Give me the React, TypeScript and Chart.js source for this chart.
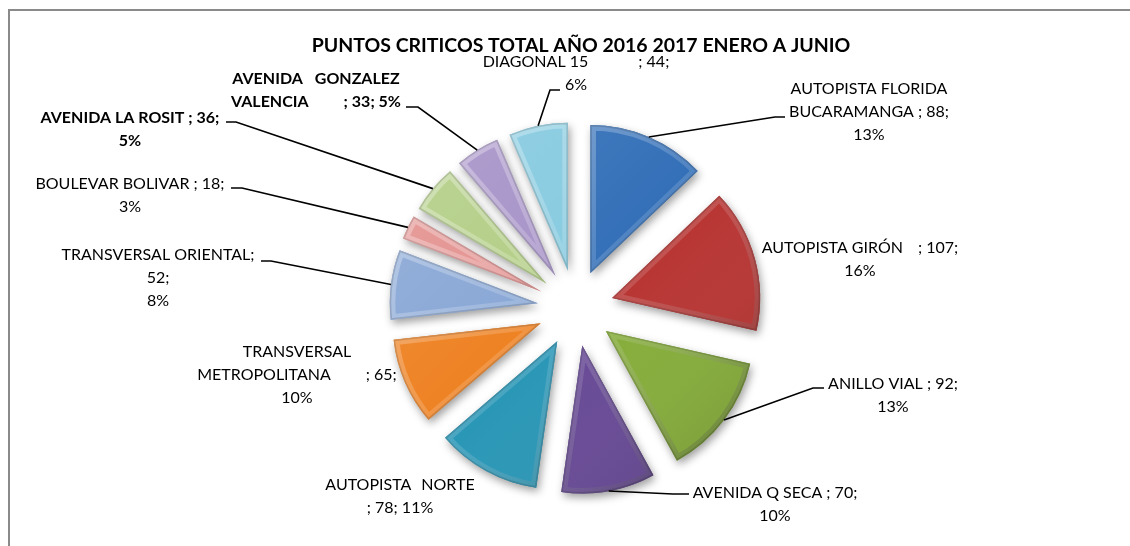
import React, { useEffect, useRef } from 'react';
import { Chart, registerables } from 'chart.js';

Chart.register(...registerables);

const TITLE = 'PUNTOS CRITICOS TOTAL AÑO 2016 2017 ENERO A JUNIO';

const categories = [
  'AUTOPISTA FLORIDA BUCARAMANGA',
  'AUTOPISTA GIRÓN',
  'ANILLO VIAL',
  'AVENIDA Q SECA',
  'AUTOPISTA  NORTE',
  'TRANSVERSAL METROPOLITANA',
  'TRANSVERSAL ORIENTAL',
  'BOULEVAR BOLIVAR',
  'AVENIDA LA ROSIT',
  'AVENIDA  GONZALEZ VALENCIA',
  'DIAGONAL 15',
];

const values = [88, 107, 92, 70, 78, 65, 52, 18, 36, 33, 44];

const sliceColors = [
  '#3470b8', '#b83634', '#86ad3b', '#684a96', '#2b97b7', '#ee8223',
  '#8aa8d6', '#e49492', '#b4cf88', '#a894c9', '#88cbe0',
];

// label text templates ({v} = value, {p} = percent, \t = wide gap)
const labelTemplates: string[][] = [
  ['AUTOPISTA FLORIDA', 'BUCARAMANGA ; {v};', '{p}%'],
  ['AUTOPISTA GIRÓN\t; {v};', '{p}%'],
  ['ANILLO VIAL ; {v};', '{p}%'],
  ['AVENIDA Q SECA ; {v};', '{p}%'],
  ['AUTOPISTA\tNORTE', '; {v}; {p}%'],
  ['TRANSVERSAL', 'METROPOLITANA\t; {v};', '{p}%'],
  ['TRANSVERSAL ORIENTAL;', '{v};', '{p}%'],
  ['BOULEVAR BOLIVAR ; {v};', '{p}%'],
  ['AVENIDA LA ROSIT ; {v};', '{p}%'],
  ['AVENIDA\tGONZALEZ', 'VALENCIA\t; {v}; {p}%'],
  ['DIAGONAL 15\t; {v};', '{p}%'],
];

const labelBold = [false, false, false, false, false, false, false, false, true, true, false];

// layout of labels (centre x, first line middle y, gap widths per line, leader elbow & end)
type LeaderPts = [number, number][] | null;
const labelLayout: { x: number; y: number; gaps: number[]; leader: LeaderPts }[] = [
  { x: 869, y: 89, gaps: [], leader: [[775, 117], [785, 117]] },
  { x: 860, y: 248, gaps: [15], leader: null },
  { x: 893, y: 384, gaps: [], leader: [[813, 388], [824, 388]] },
  { x: 775, y: 493, gaps: [], leader: [[673, 494], [689, 494]] },
  { x: 400, y: 485, gaps: [10], leader: null },
  { x: 297, y: 352, gaps: [0, 35], leader: null },
  { x: 158, y: 255, gaps: [], leader: [[271, 261], [261, 261]] },
  { x: 130, y: 184, gaps: [], leader: [[242, 188], [231, 188]] },
  { x: 130, y: 118, gaps: [], leader: [[236, 122], [226, 122]] },
  { x: 316, y: 79, gaps: [12, 35], leader: [[418, 107], [406, 107]] },
  { x: 576, y: 62, gaps: [50], leader: [[550, 90], [560, 90]] },
];

const EXPLODE = 38;
const LABEL_FONT = 'Lato, "Open Sans", sans-serif';
const LABEL_SIZE = 16;
const TITLE_SIZE = 19.5;
const LINE_H = 22.7;

function slicePath(ctx: CanvasRenderingContext2D, x: number, y: number, r: number, a0: number, a1: number) {
  ctx.beginPath();
  ctx.moveTo(x, y);
  ctx.arc(x, y, r, a0, a1);
  ctx.closePath();
}

const piePlugin = {
  id: 'explodedBevelPie',
  beforeDraw(chart: any) {
    const ctx: CanvasRenderingContext2D = chart.ctx;
    ctx.save();
    ctx.fillStyle = '#ffffff';
    ctx.fillRect(0, 0, chart.width, chart.height);
    ctx.fillStyle = '#8a8a8a';
    ctx.fillRect(8, 9, chart.width - 8, 2);
    ctx.fillRect(8, 9, 2, chart.height - 9);
    ctx.restore();
  },
  beforeDatasetDraw(chart: any, args: any) {
    const ctx: CanvasRenderingContext2D = chart.ctx;
    const meta = chart.getDatasetMeta(args.index);
    meta.data.forEach((el: any, i: number) => {
      const { x, y, startAngle, endAngle, outerRadius } = el.getProps(
        ['x', 'y', 'startAngle', 'endAngle', 'outerRadius'], true);
      const r = outerRadius;
      const mid = (startAngle + endAngle) / 2;
      const dx = Math.cos(mid) * EXPLODE;
      const dy = Math.sin(mid) * EXPLODE;
      ctx.save();
      ctx.translate(dx, dy);
      // soft drop shadow
      ctx.save();
      ctx.shadowColor = 'rgba(0,0,0,0.38)';
      ctx.shadowBlur = 8;
      ctx.shadowOffsetX = 2;
      ctx.shadowOffsetY = 4;
      slicePath(ctx, x, y, r, startAngle, endAngle);
      ctx.fillStyle = sliceColors[i];
      ctx.fill();
      ctx.restore();
      // library arc
      el.draw(ctx);
      // bevel shading
      ctx.save();
      slicePath(ctx, x, y, r, startAngle, endAngle);
      ctx.clip();
      const face = ctx.createLinearGradient(x - r, y - r, x + r, y + r);
      face.addColorStop(0, 'rgba(255,255,255,0.10)');
      face.addColorStop(0.5, 'rgba(255,255,255,0)');
      face.addColorStop(1, 'rgba(0,0,0,0.12)');
      ctx.fillStyle = face;
      ctx.fillRect(x - r - 5, y - r - 5, 2 * r + 10, 2 * r + 10);
      const edge = ctx.createLinearGradient(x - r, y - r, x + r, y + r);
      edge.addColorStop(0, 'rgba(255,255,255,0.38)');
      edge.addColorStop(0.5, 'rgba(255,255,255,0.14)');
      edge.addColorStop(1, 'rgba(0,0,0,0.30)');
      slicePath(ctx, x, y, r, startAngle, endAngle);
      ctx.lineJoin = 'round';
      ctx.lineWidth = 11;
      ctx.strokeStyle = edge;
      ctx.stroke();
      ctx.lineWidth = 3;
      ctx.strokeStyle = 'rgba(0,0,0,0.14)';
      ctx.stroke();
      ctx.restore();
      ctx.restore();
    });
    return false;
  },
  afterDraw(chart: any) {
    const ctx: CanvasRenderingContext2D = chart.ctx;
    const meta = chart.getDatasetMeta(0);
    const total = values.reduce((a, b) => a + b, 0);
    ctx.save();
    // title
    ctx.fillStyle = '#000';
    ctx.textAlign = 'center';
    ctx.textBaseline = 'middle';
    ctx.font = `bold ${TITLE_SIZE}px ${LABEL_FONT}`;
    ctx.fillText(TITLE, 581, 46);

    meta.data.forEach((el: any, i: number) => {
      const lay = labelLayout[i];
      const { x, y, startAngle, endAngle, outerRadius } = el.getProps(
        ['x', 'y', 'startAngle', 'endAngle', 'outerRadius'], true);
      const mid = (startAngle + endAngle) / 2;
      if (lay.leader) {
        const px = x + Math.cos(mid) * (EXPLODE + outerRadius);
        const py = y + Math.sin(mid) * (EXPLODE + outerRadius);
        ctx.beginPath();
        ctx.moveTo(px, py);
        lay.leader.forEach(([lx, ly]) => ctx.lineTo(lx, ly));
        ctx.lineWidth = 1.6;
        ctx.strokeStyle = '#000';
        ctx.stroke();
      }
      const pct = Math.round((values[i] / total) * 100);
      ctx.font = `${labelBold[i] ? 'bold ' : ''}${LABEL_SIZE}px ${LABEL_FONT}`;
      ctx.fillStyle = '#000';
      labelTemplates[i].forEach((tpl, li) => {
        const text = tpl.replace('{v}', String(values[i])).replace('{p}', String(pct));
        const ly = lay.y + li * LINE_H;
        if (text.includes('\t')) {
          const [a, b] = text.split('\t');
          const gap = lay.gaps[li] ?? 10;
          const wa = ctx.measureText(a).width;
          const wb = ctx.measureText(b).width;
          const w = wa + gap + wb;
          const left = lay.x - w / 2;
          ctx.textAlign = 'left';
          ctx.fillText(a, left, ly);
          ctx.fillText(b, left + wa + gap, ly);
        } else {
          ctx.textAlign = 'center';
          ctx.fillText(text, lay.x, ly);
        }
      });
    });
    ctx.restore();
  },
};

export default function App() {
  const canvasRef = useRef<HTMLCanvasElement | null>(null);

  useEffect(() => {
    document.body.style.margin = '0';
    document.body.style.overflow = 'hidden';
    const canvas = canvasRef.current;
    if (!canvas) return;
    const chart = new Chart(canvas, {
      type: 'pie',
      data: {
        labels: categories,
        datasets: [
          {
            data: values,
            backgroundColor: sliceColors,
            borderWidth: 0,
            offset: 0,
          },
        ],
      },
      options: {
        responsive: false,
        animation: false,
        radius: 148,
        layout: { padding: { left: 60, right: 39, top: 100, bottom: 30 } },
        plugins: {
          legend: { display: false },
          tooltip: { enabled: false },
          title: { display: false },
        },
      } as any,
      plugins: [piePlugin as any],
    });
    return () => chart.destroy();
  }, []);

  return (
    <canvas
      ref={canvasRef}
      width={1130}
      height={546}
      style={{ display: 'block', width: 1130, height: 546 }}
    />
  );
}
